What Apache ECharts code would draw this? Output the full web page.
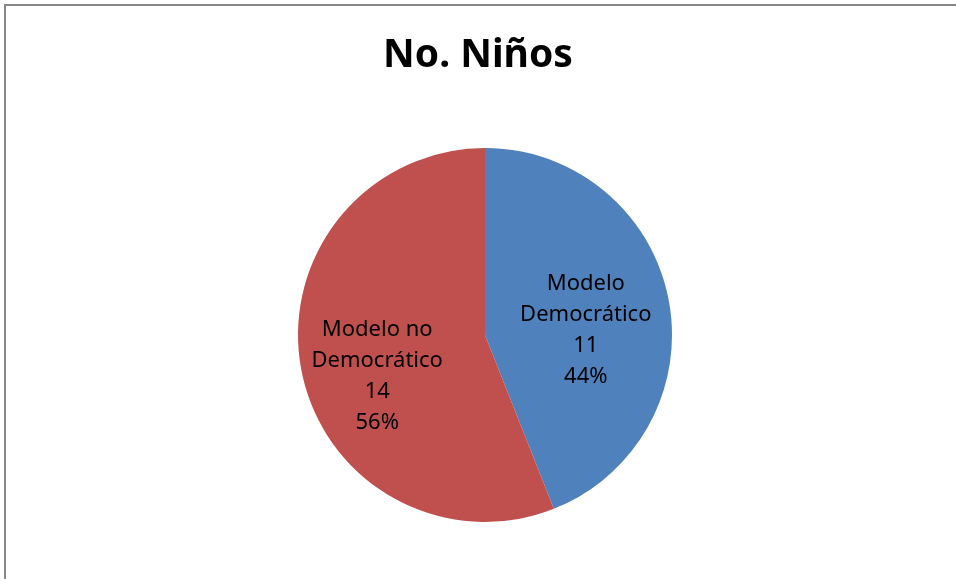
<!DOCTYPE html>
<html>
<head>
<meta charset="utf-8">
<script src="https://cdn.jsdelivr.net/npm/echarts@6/dist/echarts.min.js"></script>
<style>
  html, body { margin: 0; padding: 0; background: #fff; }
  #chart { width: 956px; height: 579px; }
</style>
</head>
<body>
<div id="chart"></div>
<script>
const titleText = "No. Niños";
const categories = ["Modelo\nDemocrático", "Modelo no\nDemocrático"];
const values = [11, 14];
const colors = ["#4f81bd", "#c0504d"];
// label nudges so they sit where Excel put them
const labelOffsets = [[6, 13], [-13, 23]];

const chart = echarts.init(document.getElementById("chart"));

const pieData = categories.map((name, i) => ({
  name: name,
  value: values[i],
  itemStyle: { color: colors[i] },
  label: { offset: labelOffsets[i] },
}));

chart.setOption({
  animation: false,
  graphic: [
    {
      type: "rect",
      shape: { x: 5, y: 5, width: 970, height: 600 },
      style: { fill: "none", stroke: "#878787", lineWidth: 2 },
      silent: true,
    },
  ],
  title: {
    text: titleText,
    left: "center",
    top: 31,
    textStyle: {
      fontFamily: "Noto Sans",
      fontWeight: "bold",
      fontSize: 39,
      color: "#000",
    },
  },
  series: [
    {
      type: "pie",
      center: [485, 335],
      radius: 187,
      startAngle: 90,
      clockwise: true,
      data: pieData,
      itemStyle: { borderWidth: 0 },
      label: {
        show: true,
        position: "inside",
        formatter: (p) => p.name + "\n" + p.value + "\n" + Math.round(p.percent) + "%",
        fontFamily: "Noto Sans",
        fontSize: 22,
        lineHeight: 31,
        color: "#000",
        align: "center",
      },
      labelLine: { show: false },
      emphasis: { disabled: true },
    },
  ],
});
</script>
</body>
</html>
